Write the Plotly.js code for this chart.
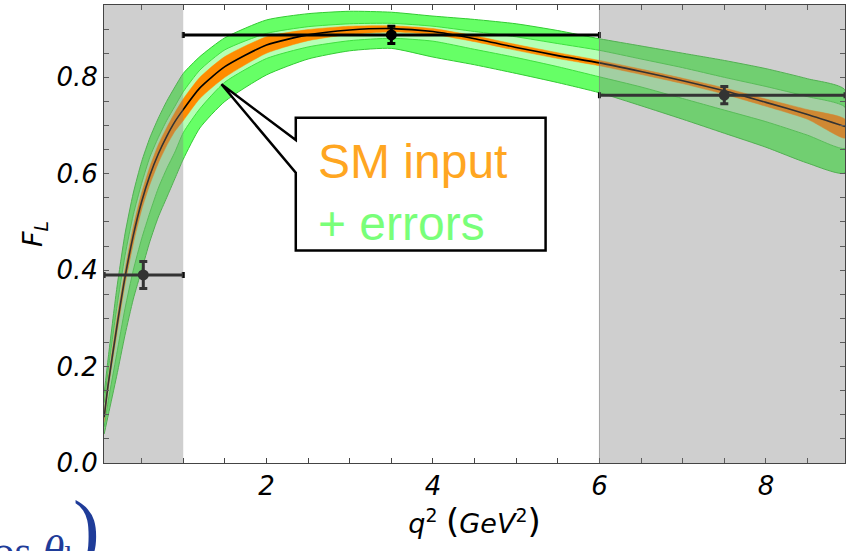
<!DOCTYPE html>
<html>
<head>
<meta charset="utf-8">
<script src="https://cdn.plot.ly/plotly-3.0.1.min.js"></script>
<style>html,body{margin:0;padding:0;background:#fff;}#chart{width:852px;height:551px;}</style>
</head>
<body>
<div id="chart"></div>
<script>
// q^2 sample positions (GeV^2)
const q2 = [0.05,0.1,0.2,0.3,0.4,0.5,0.6,0.7,0.8,0.9,1.0,1.2,1.5,2.0,2.5,3.0,3.5,4.0,4.5,5.0,5.5,6.0,6.5,7.0,7.5,8.0,8.5,8.95];
// SM central prediction of F_L
const central = [0.095,0.165,0.28,0.385,0.472,0.542,0.597,0.641,0.677,0.708,0.733,0.778,0.822,0.867,0.888,0.898,0.901,0.895,0.880,0.862,0.845,0.830,0.812,0.793,0.772,0.748,0.723,0.698];
// orange band (SM input)
const orangeHi = [0.105,0.175,0.295,0.40,0.49,0.56,0.615,0.66,0.695,0.727,0.755,0.80,0.843,0.884,0.899,0.906,0.907,0.901,0.886,0.868,0.851,0.835,0.817,0.798,0.778,0.755,0.733,0.713];
const orangeLo = [0.085,0.155,0.265,0.37,0.455,0.525,0.578,0.622,0.658,0.688,0.71,0.756,0.80,0.85,0.876,0.889,0.894,0.889,0.874,0.856,0.839,0.824,0.806,0.787,0.765,0.740,0.713,0.674];
// inner light-green band
const innerHi = [0.125,0.195,0.32,0.43,0.515,0.58,0.635,0.675,0.71,0.74,0.77,0.815,0.857,0.891,0.905,0.911,0.912,0.906,0.895,0.884,0.870,0.856,0.838,0.82,0.80,0.781,0.760,0.738];
const innerLo = [0.075,0.13,0.225,0.32,0.40,0.465,0.52,0.57,0.61,0.645,0.685,0.735,0.79,0.839,0.863,0.876,0.881,0.875,0.858,0.841,0.822,0.801,0.78,0.756,0.732,0.708,0.680,0.653];
// outer green band (+ errors)
const outerHi = [0.145,0.22,0.36,0.475,0.56,0.625,0.675,0.715,0.75,0.78,0.808,0.843,0.882,0.919,0.932,0.937,0.935,0.927,0.920,0.911,0.897,0.880,0.865,0.850,0.835,0.818,0.797,0.774];
const outerLo = [0.06,0.10,0.18,0.265,0.34,0.40,0.46,0.51,0.55,0.59,0.63,0.695,0.75,0.805,0.838,0.855,0.860,0.842,0.826,0.808,0.789,0.768,0.741,0.713,0.684,0.655,0.622,0.602];

// binned measurements
const ptX   = [0.52, 3.5, 7.5];
const ptY   = [0.39, 0.888, 0.763];
const ptErr = [0.028, 0.018, 0.018];
const binLo = [0.05, 1.0, 6.0];
const binHi = [1.0, 6.0, 8.95];

// shaded q2 regions
const shadeLo = [0.048, 6.0];
const shadeHi = [1.0, 8.95];

function band(hi, lo, fill, lineColor, lw) {
  return {
    x: q2.concat(q2.slice().reverse()),
    y: hi.concat(lo.slice().reverse()),
    type: 'scatter', mode: 'lines', fill: 'toself',
    fillcolor: fill,
    line: {color: lineColor, width: lw, shape: 'spline', smoothing: 0.6},
    hoverinfo: 'skip', showlegend: false
  };
}

const traces = [
  band(outerHi, outerLo, '#66ff66', '#33cc33', 1),
  band(innerHi, innerLo, '#b5ffb5', '#3fe03f', 1),
  band(orangeHi, orangeLo, '#ff8c00', '#ff8c00', 0.5),
  {x: q2, y: central, type: 'scatter', mode: 'lines',
   line: {color: '#000', width: 1.6, shape: 'spline', smoothing: 0.6}, hoverinfo: 'skip'},
  {x: ptX, y: ptY, type: 'scatter', mode: 'markers',
   marker: {color: '#000', size: 11, symbol: 'circle'},
   error_x: {type: 'data', symmetric: false,
             array: ptX.map((v, i) => binHi[i] - v),
             arrayminus: ptX.map((v, i) => v - binLo[i]),
             color: '#000', thickness: 3, width: 3},
   error_y: {type: 'data', array: ptErr, color: '#000', thickness: 3, width: 4},
   hoverinfo: 'skip'}
];

const shapes = [];
for (let i = 0; i < shadeLo.length; i++) {
  shapes.push({type: 'rect', xref: 'x', yref: 'paper', x0: shadeLo[i], x1: shadeHi[i], y0: 0, y1: 1,
    fillcolor: 'rgba(131,131,131,0.39)', line: {width: 0}, layer: 'above'});
}
shapes.push({type: 'line', xref: 'x', yref: 'paper', x0: 6.0, x1: 6.0, y0: 0, y1: 1,
  line: {color: 'rgba(120,120,120,0.6)', width: 1}, layer: 'above'});
// callout box
shapes.push({type: 'path', xref: 'x', yref: 'y', layer: 'above',
  path: 'M 2.352,0.670 L 1.459,0.7855 L 2.352,0.602 L 2.352,0.4406 L 5.353,0.4406 L 5.353,0.7163 L 2.352,0.7163 Z',
  fillcolor: '#ffffff', line: {color: '#000', width: 2.5}});

const tickFont = {family: 'DejaVu Sans', size: 26, style: 'italic', color: '#000'};

const layout = {
  width: 852, height: 551,
  margin: {l: 104, r: 7, t: 5, b: 88},
  paper_bgcolor: '#fff', plot_bgcolor: '#fff',
  showlegend: false,
  xaxis: {
    range: [0.048, 8.95], tick0: 0, dtick: 2,
    ticks: 'inside', ticklen: 5, tickcolor: '#444', tickwidth: 1,
    minor: {dtick: 0.5, tick0: 0, ticks: 'inside', ticklen: 5, tickcolor: '#444', showgrid: false},
    showline: true, linecolor: '#444', linewidth: 1, mirror: 'ticks',
    showgrid: false, zeroline: false,
    tickfont: tickFont,
    title: {text: '<i>q</i><sup>2</sup> <span style="font-size:34px">(</span><i>GeV</i><sup>2</sup><span style="font-size:34px">)</span>',
            font: {family: 'DejaVu Sans', size: 27, color: '#000'}, standoff: 8}
  },
  yaxis: {
    range: [0, 0.95], tick0: 0, dtick: 0.2, tickformat: '.1f',
    ticks: 'inside', ticklen: 5, tickcolor: '#444', tickwidth: 1,
    minor: {dtick: 0.05, tick0: 0, ticks: 'inside', ticklen: 5, tickcolor: '#444', showgrid: false},
    showline: true, linecolor: '#444', linewidth: 1, mirror: 'ticks',
    showgrid: false, zeroline: false,
    tickfont: tickFont,
    title: {text: '<i>F</i><sub><i>L</i></sub>', font: {family: 'DejaVu Sans', size: 27, color: '#000'}, standoff: 5}
  },
  shapes: shapes,
  annotations: [
    {xref: 'x', yref: 'y', x: 2.60, y: 0.625, xanchor: 'left', yanchor: 'middle', showarrow: false,
     text: 'SM input', font: {family: 'Liberation Sans', size: 48, color: '#ffa621'}},
    {xref: 'x', yref: 'y', x: 2.60, y: 0.497, xanchor: 'left', yanchor: 'middle', showarrow: false,
     text: '+ errors', font: {family: 'Liberation Sans', size: 48, color: '#79ff79'}},
    {xref: 'paper', yref: 'paper', x: -0.039, y: -0.135, xanchor: 'right', yanchor: 'top', showarrow: false,
     text: 'cos <i>θ</i><span style="font-size:30px">l</span>', font: {family: 'Liberation Serif', size: 44, color: '#1f3c99'}},
    {xref: 'paper', yref: 'paper', x: -0.023, y: -0.146, xanchor: 'center', yanchor: 'middle', showarrow: false,
     text: ')', font: {family: 'Liberation Serif', size: 80, color: '#1f3c99'}}
  ]
};

Plotly.newPlot('chart', traces, layout, {staticPlot: true, displayModeBar: false});
</script>
</body>
</html>
